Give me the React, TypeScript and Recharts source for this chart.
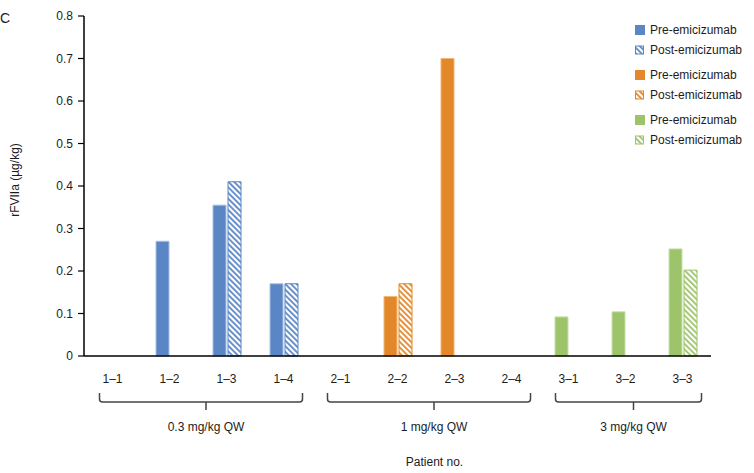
import { BarChart, Bar, XAxis, YAxis, Cell } from "recharts";

const patients = ["1–1", "1–2", "1–3", "1–4", "2–1", "2–2", "2–3", "2–4", "3–1", "3–2", "3–3"];
const doseGroup = [0, 0, 0, 0, 1, 1, 1, 1, 2, 2, 2];
const preValues = [null, 0.27, 0.355, 0.17, null, 0.14, 0.7, null, 0.092, 0.104, 0.252];
const postValues = [null, null, 0.41, 0.17, null, 0.17, null, null, null, null, 0.202];
const groupLabels = ["0.3 mg/kg QW", "1 mg/kg QW", "3 mg/kg QW"];
const yTicks = [0, 0.1, 0.2, 0.3, 0.4, 0.5, 0.6, 0.7, 0.8];
const legendLabels = ["Pre-emicizumab", "Post-emicizumab"];

const colors = ["#5A86C5", "#E2882A", "#9DC46B"];
const lightColors = ["#A8BFE3", "#F2B676", "#C9E1A9"];

const W = 754;
const H = 473;
const PLOT_LEFT = 84;
const PLOT_RIGHT = 43;
const BAND = (W - PLOT_LEFT - PLOT_RIGHT) / patients.length;
const FONT = '"Liberation Sans", Arial, sans-serif';
const TEXT = "#1c1c1c";

const chartData = patients.map((id, i) => ({
  id,
  pre: preValues[i],
  post: postValues[i],
}));

function Hatch({ id, color }: { id: string; color: string }) {
  return (
    <pattern id={id} patternUnits="userSpaceOnUse" width={4} height={4} patternTransform="rotate(-45)">
      <rect width={4} height={4} fill="#fff" />
      <rect width={1.8} height={4} fill={color} />
    </pattern>
  );
}

// category label + the dose-group brace drawn under the first patient of each group
function PatientTick(props: any) {
  const { x, y, payload } = props;
  const i = patients.indexOf(payload.value);
  const g = doseGroup[i];
  const isFirst = doseGroup.indexOf(g) === i;
  let brace = null;
  if (isFirst) {
    const n = doseGroup.filter((d) => d === g).length;
    const x0 = x - 13;
    const x1 = x + (n - 1) * BAND + 19;
    const mid = (x0 + x1) / 2 + 5;
    const top = y + 37;
    const line = y + 46;
    brace = (
      <g>
        <path
          d={`M${x0},${top} L${x0},${line - 3} Q${x0},${line} ${x0 + 3},${line} L${x1 - 3},${line} Q${x1},${line} ${x1},${line - 3} L${x1},${top} M${mid},${line} L${mid},${line + 8}`}
          fill="none"
          stroke="#444"
          strokeWidth={1.5}
        />
        <text x={mid} y={line + 29} textAnchor="middle" fontSize={12} fill={TEXT} fontFamily={FONT}>
          {groupLabels[g]}
        </text>
      </g>
    );
  }
  return (
    <g>
      <text x={x} y={y + 27} textAnchor="middle" fontSize={12} fill={TEXT} fontFamily={FONT}>
        {payload.value}
      </text>
      {brace}
    </g>
  );
}

function YTitle(props: any) {
  const vb = props.viewBox || { x: 0, y: 16, width: 84, height: 340 };
  const cx = 15;
  const cy = vb.y + vb.height / 2 - 6;
  return (
    <text x={cx} y={cy} transform={`rotate(-90 ${cx} ${cy})`} textAnchor="middle" dominantBaseline="central" fontSize={12} fill={TEXT} fontFamily={FONT}>
      rFVIIa (µg/kg)
    </text>
  );
}

function XTitle(props: any) {
  const vb = props.viewBox || { x: 84, y: 356, width: 627, height: 117 };
  return (
    <text x={vb.x + vb.width / 2 + 37} y={vb.y + 110} textAnchor="middle" fontSize={12} fill={TEXT} fontFamily={FONT}>
      Patient no.
    </text>
  );
}

function LegendBox() {
  const rows: { group: number; post: boolean }[] = [];
  colors.forEach((_, g) => {
    rows.push({ group: g, post: false });
    rows.push({ group: g, post: true });
  });
  return (
    <svg width={124} height={150} style={{ position: "absolute", left: 630, top: 15 }}>
      <defs>
        {colors.map((c, g) => (
          <Hatch key={g} id={`legend-hatch-${g}`} color={c} />
        ))}
      </defs>
      {rows.map((r, k) => {
        const cy = 15 + Math.floor(k / 2) * 45 + (k % 2) * 20;
        return (
          <g key={k}>
            {r.post ? (
              <rect x={5.5} y={cy - 4} width={8} height={8} fill={`url(#legend-hatch-${r.group})`} stroke={colors[r.group]} strokeWidth={1} />
            ) : (
              <rect x={5} y={cy - 5} width={10} height={10} fill={colors[r.group]} />
            )}
            <text x={20} y={cy + 4} fontSize={12} fill={TEXT} fontFamily={FONT}>
              {legendLabels[r.post ? 1 : 0]}
            </text>
          </g>
        );
      })}
    </svg>
  );
}

export default function App() {
  return (
    <div style={{ position: "absolute", left: 0, top: 0, width: W, height: H, background: "#fff", fontFamily: FONT }}>
      <div style={{ position: "absolute", left: 0, top: 10, fontSize: 14, color: TEXT, lineHeight: "16px" }}>C</div>
      <BarChart width={W} height={H} data={chartData} margin={{ top: 16, right: PLOT_RIGHT, bottom: 0, left: 0 }} barSize={13} barGap={2}>
        <defs>
          {colors.map((c, g) => (
            <Hatch key={g} id={`hatch-${g}`} color={c} />
          ))}
        </defs>
        <XAxis
          dataKey="id"
          interval={0}
          height={117}
          tickLine={false}
          tickSize={0}
          tickMargin={0}
          axisLine={{ stroke: "#000", strokeWidth: 1.5 }}
          tick={<PatientTick />}
          label={<XTitle />}
        />
        <YAxis
          width={PLOT_LEFT}
          domain={[0, 0.8]}
          ticks={yTicks}
          interval={0}
          tickFormatter={(v: number) => (v === 0 ? "0" : v.toFixed(1))}
          tick={{ fontSize: 12, fill: TEXT, fontFamily: FONT }}
          tickSize={6}
          tickMargin={5}
          tickLine={{ stroke: "#000", strokeWidth: 1.2 }}
          axisLine={{ stroke: "#000", strokeWidth: 1.5 }}
          label={<YTitle />}
        />
        <Bar dataKey="pre" isAnimationActive={false}>
          {chartData.map((_, i) => (
            <Cell key={i} fill={colors[doseGroup[i]]} stroke={lightColors[doseGroup[i]]} strokeWidth={1} />
          ))}
        </Bar>
        <Bar dataKey="post" isAnimationActive={false}>
          {chartData.map((_, i) => (
            <Cell key={i} fill={`url(#hatch-${doseGroup[i]})`} stroke={colors[doseGroup[i]]} strokeWidth={1} />
          ))}
        </Bar>
      </BarChart>
      <LegendBox />
    </div>
  );
}
